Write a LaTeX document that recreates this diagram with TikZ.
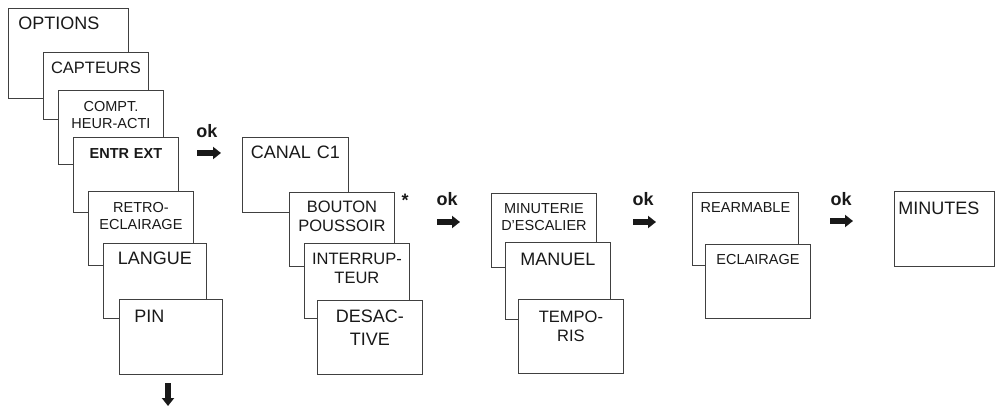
\documentclass[tikz,border=0pt]{standalone}
\usepackage{fontspec}
\setmainfont{Liberation Sans}
\usetikzlibrary{arrows.meta}
\tikzset{
  menu/.style={draw=black!75, line width=0.9pt, fill=white, anchor=north west,
    inner xsep=3pt, inner ysep=8pt, text height=13pt, text depth=46pt,
    text width=99pt, align=center, text=black!90},
  big/.style={font=\fontsize{18}{23}\selectfont},
  mid/.style={font=\fontsize{16.5}{19.5}\selectfont},
  small/.style={font=\fontsize{14.5}{17}\selectfont},
  ok/.style={font=\fontsize{18}{20}\selectfont\bfseries, text=black!90, anchor=base},
  okarrow/.style={line width=5.5pt, draw=black!90, -{Triangle[length=8pt,width=12pt]}}
}
\begin{document}
\begin{tikzpicture}[x=1pt, y=-1pt]
  \useasboundingbox (0,0) rectangle (995,406);
  % options column
  \node[menu, big, align=left, inner xsep=10pt, text width=100pt, text depth=61pt] (opt) at (8,8) {OPTIONS};
  \node[menu, mid, text depth=38pt] (capt) at (43,52) {CAPTEURS};
  \node[menu, small, text depth=45pt] (compt) at (58,90) {COMPT.\\HEUR-ACTI};
  \node[menu, small] (entr) at (73,137) {\bfseries ENTR EXT};
  \node[menu, small, text depth=45pt] (retro) at (88,191) {RETRO-\\ECLAIRAGE};
  \node[menu, big, text width=97pt] (langue) at (103,243) {LANGUE};
  \node[menu, big, align=left, inner xsep=15pt, text width=73pt, text height=15pt, text depth=44pt] (pin) at (119,299) {PIN};
  \coordinate (down1) at (168,383);
  \coordinate (down2) at (168,406);
  \draw[okarrow] (down1) -- (down2);

  \node[ok] (ok1) at (207,138) {ok};
  \coordinate (a1) at (197,153);
  \coordinate (b1) at (221,153);
  \draw[okarrow] (a1) -- (b1);

  % canal column
  \node[menu, big, text width=100pt] (canal) at (242,137) {CANAL C1};
  \node[menu, mid, text height=12pt, text depth=46pt] (bouton) at (289,192) {BOUTON\\POUSSOIR};
  \node[menu, mid] (inter) at (304,243) {INTERRUP-\\TEUR};
  \node[menu, big, text height=14pt, text depth=44pt] (desac) at (317,300) {DESAC-\\TIVE};
  \node[font=\fontsize{18}{20}\selectfont\bfseries, text=black!90] (star) at (405,200) {*};

  \node[ok] (ok2) at (447,205) {ok};
  \coordinate (a2) at (437,222);
  \coordinate (b2) at (460,222);
  \draw[okarrow] (a2) -- (b2);

  % escalier column
  \node[menu, small, text height=12pt, text depth=46pt] (minut) at (491,193) {MINUTERIE\\D'ESCALIER};
  \node[menu, big, text height=15pt] (manuel) at (505,242) {MANUEL};
  \node[menu, mid, text height=15pt, text depth=43pt] (tempo) at (518,299) {TEMPO-\\RIS};

  \node[ok] (ok3) at (643,205) {ok};
  \coordinate (a3) at (633,222);
  \coordinate (b3) at (656,222);
  \draw[okarrow] (a3) -- (b3);

  % rearmable column
  \node[menu, small, text width=100pt, text height=12pt, text depth=45pt] (rearm) at (692,192) {REARMABLE};
  \node[menu, small, text height=12pt] (eclair) at (705,244) {ECLAIRAGE};

  \node[ok] (ok4) at (841,205) {ok};
  \coordinate (a4) at (830,221);
  \coordinate (b4) at (853,221);
  \draw[okarrow] (a4) -- (b4);

  \node[menu, big, align=left, inner xsep=4pt, text width=92pt, text height=15pt, text depth=44pt] (minutes) at (894,191) {MINUTES};
\end{tikzpicture}
\end{document}
